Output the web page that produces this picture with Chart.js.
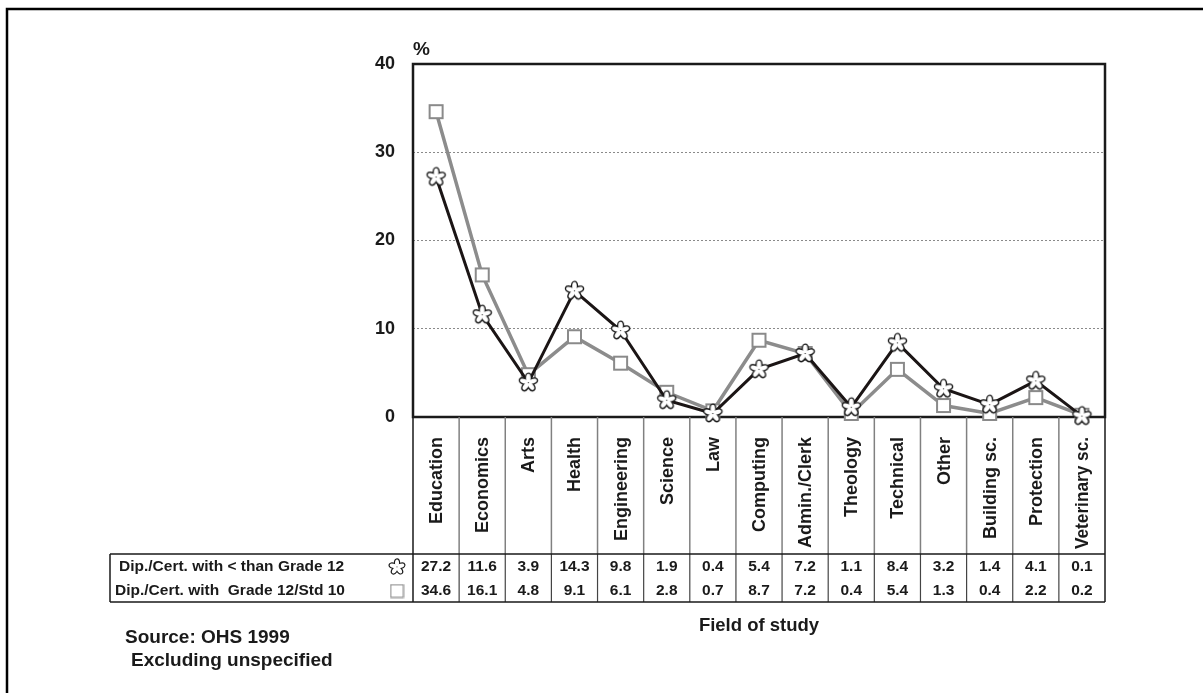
<!DOCTYPE html>
<html>
<head>
<meta charset="utf-8">
<script src="https://cdn.jsdelivr.net/npm/chart.js@4.4.1/dist/chart.umd.min.js"></script>
<style>
  html, body { margin: 0; padding: 0; background: #fff; }
  #wrap { width: 1203px; height: 693px; }
</style>
</head>
<body>
<div id="wrap"><canvas id="chart" width="1203" height="693"></canvas></div>
<script>
// data
var categories = ["Education", "Economics", "Arts", "Health", "Engineering", "Science", "Law",
  "Computing", "Admin./Clerk", "Theology", "Technical", "Other", "Building sc.", "Protection", "Veterinary sc."];
var lessGrade12 = [27.2, 11.6, 3.9, 14.3, 9.8, 1.9, 0.4, 5.4, 7.2, 1.1, 8.4, 3.2, 1.4, 4.1, 0.1];
var grade12 = [34.6, 16.1, 4.8, 9.1, 6.1, 2.8, 0.7, 8.7, 7.2, 0.4, 5.4, 1.3, 0.4, 2.2, 0.2];
var seriesNames = ["Dip./Cert. with < than Grade 12", "Dip./Cert. with  Grade 12/Std 10"];
var yTicks = [0, 10, 20, 30, 40];

var FONT = '"Liberation Sans", Arial, sans-serif';
var INK = '#1a1a1a';

// marker images
function makeStar(size) {
  var c = document.createElement('canvas');
  c.width = size; c.height = size;
  var g = c.getContext('2d');
  var m = size / 2;
  function petals() {
    for (var i = 0; i < 5; i++) {
      var a = -Math.PI / 2 + i * 2 * Math.PI / 5;
      g.beginPath();
      g.ellipse(m + Math.cos(a) * size * 0.2, m + Math.sin(a) * size * 0.2, size * 0.18, size * 0.1, a, 0, Math.PI * 2);
      g.stroke();
      g.fill();
    }
  }
  g.strokeStyle = INK;
  g.fillStyle = INK;
  g.lineWidth = size * 0.12;
  petals();
  g.fillStyle = '#fff';
  g.strokeStyle = '#fff';
  g.lineWidth = 0.01;
  petals();
  return c;
}
function makeSquare(size, lw) {
  var c = document.createElement('canvas');
  c.width = size; c.height = size;
  var g = c.getContext('2d');
  g.fillStyle = '#fff';
  g.strokeStyle = '#8a8a8a';
  g.lineWidth = lw;
  g.fillRect(lw, lw, size - 2 * lw, size - 2 * lw);
  g.strokeRect(lw, lw, size - 2 * lw, size - 2 * lw);
  return c;
}
var starImg = makeStar(23);
var squareImg = makeSquare(17, 2);
var starSmall = makeStar(20);
var squareSmall = makeSquare(15, 1.2);

var tablePlugin = {
  id: 'tablePlugin',
  beforeDatasetsDraw: function (chart) {
    var ctx = chart.ctx, a = chart.chartArea;
    ctx.save();
    // plot frame
    ctx.strokeStyle = INK;
    ctx.lineWidth = 2.5;
    ctx.strokeRect(a.left, a.top, a.right - a.left, a.bottom - a.top);
    ctx.restore();
  },
  afterDraw: function (chart) {
    var ctx = chart.ctx, a = chart.chartArea, x = chart.scales.x;
    var labTop = a.bottom, tabTop = 554, tabBot = 602, tabLeft = 110;
    ctx.save();

    // outer frame (top and left only)
    ctx.strokeStyle = '#000';
    ctx.lineWidth = 2.5;
    ctx.beginPath();
    ctx.moveTo(1203, 9); ctx.lineTo(7, 9); ctx.lineTo(7, 693);
    ctx.stroke();

    // band boundaries
    var bounds = [a.left];
    for (var i = 1; i < categories.length; i++) {
      bounds.push((x.getPixelForValue(i - 1) + x.getPixelForValue(i)) / 2);
    }
    bounds.push(a.right);
    for (var b = 1; b < bounds.length - 1; b++) {
      ctx.strokeStyle = '#808080';
      ctx.lineWidth = 1.5;
      ctx.beginPath(); ctx.moveTo(bounds[b], labTop); ctx.lineTo(bounds[b], tabTop); ctx.stroke();
      ctx.strokeStyle = '#444';
      ctx.lineWidth = 1.2;
      ctx.beginPath(); ctx.moveTo(bounds[b], tabTop); ctx.lineTo(bounds[b], tabBot); ctx.stroke();
    }
    ctx.strokeStyle = INK;
    ctx.lineWidth = 1.5;
    ctx.beginPath();
    ctx.moveTo(a.left, labTop); ctx.lineTo(a.left, tabBot);
    ctx.moveTo(a.right, labTop); ctx.lineTo(a.right, tabBot);
    ctx.moveTo(tabLeft, tabTop); ctx.lineTo(a.right, tabTop);
    ctx.moveTo(tabLeft, tabBot); ctx.lineTo(a.right, tabBot);
    ctx.moveTo(tabLeft, tabTop); ctx.lineTo(tabLeft, tabBot);
    ctx.stroke();

    // rotated category labels
    ctx.fillStyle = INK;
    ctx.font = 'bold 18px ' + FONT;
    ctx.textAlign = 'right';
    ctx.textBaseline = 'middle';
    categories.forEach(function (c, i) {
      ctx.save();
      ctx.translate(x.getPixelForValue(i) + 1, 437);
      ctx.rotate(-Math.PI / 2);
      ctx.fillText(c, 0, 0, tabTop - 437 - 5);
      ctx.restore();
    });

    // table values
    var rows = [lessGrade12, grade12], rowY = [567, 591];
    ctx.font = 'bold 15.5px ' + FONT;
    ctx.textAlign = 'center';
    rows.forEach(function (r, k) {
      r.forEach(function (v, i) {
        ctx.fillText(v.toFixed(1), x.getPixelForValue(i), rowY[k]);
      });
    });
    ctx.textAlign = 'left';
    ctx.fillText(seriesNames[0], 119, rowY[0]);
    ctx.fillText(seriesNames[1], 115, rowY[1]);
    ctx.drawImage(starSmall, 397 - 10, rowY[0] - 10);
    ctx.drawImage(squareSmall, 397 - 7.5, rowY[1] - 7.5);

    // other texts
    ctx.font = 'bold 19px ' + FONT;
    ctx.textBaseline = 'alphabetic';
    ctx.fillText('%', 413, 55);
    ctx.fillText('Source: OHS 1999', 125, 643);
    ctx.fillText('Excluding unspecified', 131, 666);
    ctx.textAlign = 'center';
    ctx.font = 'bold 18.5px ' + FONT;
    ctx.fillText('Field of study', 759, 631);
    ctx.restore();
  }
};

new Chart(document.getElementById('chart'), {
  type: 'line',
  data: {
    labels: categories,
    datasets: [{
      label: seriesNames[0],
      data: lessGrade12,
      borderColor: '#1b1515',
      borderWidth: 3,
      pointStyle: starImg,
      pointRadius: 10,
      tension: 0,
      clip: false
    }, {
      label: seriesNames[1],
      data: grade12,
      borderColor: '#8c8c8c',
      borderWidth: 3.5,
      pointStyle: squareImg,
      pointRadius: 8,
      tension: 0,
      clip: false
    }]
  },
  options: {
    responsive: false,
    devicePixelRatio: 1,
    animation: false,
    layout: { padding: { left: 363, right: 98, top: 64, bottom: 276 } },
    plugins: { legend: { display: false }, tooltip: { enabled: false } },
    scales: {
      x: { type: 'category', offset: true, display: false },
      y: {
        min: yTicks[0],
        max: yTicks[yTicks.length - 1],
        afterFit: function (s) { s.width = 50; },
        afterBuildTicks: function (s) { s.ticks = yTicks.map(function (v) { return { value: v }; }); },
        ticks: {
          padding: 18,
          color: INK,
          font: { family: FONT, size: 18, weight: 'bold' }
        },
        grid: {
          drawTicks: false,
          lineWidth: 1,
          color: function (c) {
            return (c.tick && c.tick.value > 0 && c.tick.value < 40) ? '#8a8a8a' : 'rgba(0,0,0,0)';
          }
        },
        border: { display: false, dash: [2, 2] }
      }
    }
  },
  plugins: [tablePlugin]
});
</script>
</body>
</html>
